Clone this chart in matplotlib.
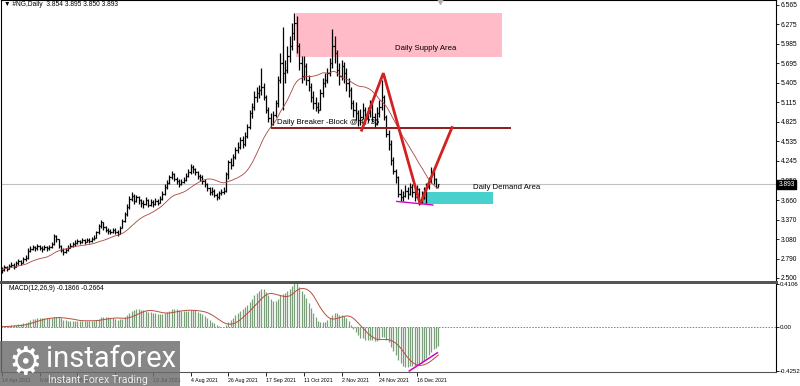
import numpy as np
import pandas as pd
import matplotlib
matplotlib.use("Agg")
import matplotlib.pyplot as plt
from matplotlib.patches import Rectangle
from matplotlib.transforms import blended_transform_factory

plt.rcParams['font.family'] = ['Liberation Sans', 'DejaVu Sans']

# #NG daily bars, 14 Apr 2021 .. end of Dec 2021
close = [2.62, 2.66, 2.64, 2.68, 2.70, 2.67, 2.72, 2.75, 2.73, 2.78,
         2.80, 2.90, 2.93, 2.96, 2.94, 2.97, 2.95, 2.93, 2.96, 2.94,
         2.96, 3.00, 3.12, 3.08, 2.98, 2.92, 2.88, 2.92, 2.95, 2.98,
         3.00, 3.02, 3.05, 3.03, 3.06, 3.04, 3.07, 3.05, 3.08, 3.10,
         3.18, 3.28, 3.33, 3.26, 3.22, 3.20, 3.18, 3.22, 3.19, 3.16,
         3.25, 3.35, 3.45, 3.55, 3.68, 3.72, 3.65, 3.70, 3.66, 3.62,
         3.60, 3.66, 3.58, 3.63, 3.60, 3.65, 3.62, 3.68, 3.75, 3.85,
         3.92, 4.00, 4.05, 3.98, 3.95, 3.90, 3.93, 3.96, 4.02, 4.08,
         4.15, 4.12, 4.08, 4.02, 4.00, 3.95, 3.90, 3.84, 3.78, 3.80,
         3.74, 3.70, 3.76, 3.78, 3.80, 4.05, 4.22, 4.18, 4.30, 4.40,
         4.45, 4.55, 4.50, 4.62, 4.75, 4.95, 5.05, 5.20, 5.25, 5.30,
         5.35, 5.20, 5.00, 4.88, 4.80, 4.92, 5.10, 5.45, 5.70, 5.55,
         5.60, 5.80, 5.95, 6.15, 6.30, 5.95, 5.70, 5.50, 5.65, 5.45,
         5.35, 5.20, 5.10, 5.05, 5.00, 5.25, 5.40, 5.45, 5.55, 5.70,
         5.95, 5.85, 5.60, 5.50, 5.65, 5.55, 5.40, 5.30, 5.10, 5.00,
         4.95, 4.85, 4.90, 5.00, 4.88, 4.95, 5.05, 4.90, 4.80, 4.95,
         5.05, 5.20, 4.90, 4.65, 4.50, 4.25, 4.10, 4.00, 3.75, 3.70,
         3.72, 3.80, 3.75, 3.85, 3.78, 3.70, 3.82, 3.65, 3.72, 3.78,
         3.85, 3.95, 4.05, 3.98, 3.86, 3.893]
high = [2.66, 2.69, 2.68, 2.71, 2.74, 2.72, 2.75, 2.79, 2.77, 2.81,
        2.84, 2.94, 2.97, 2.99, 2.98, 3.00, 2.99, 2.97, 2.99, 2.98,
        2.99, 3.04, 3.16, 3.14, 3.07, 2.99, 2.94, 2.95, 2.99, 3.02,
        3.04, 3.06, 3.08, 3.07, 3.09, 3.08, 3.10, 3.09, 3.11, 3.14,
        3.20, 3.30, 3.36, 3.34, 3.27, 3.24, 3.23, 3.25, 3.24, 3.21,
        3.27, 3.38, 3.48, 3.60, 3.72, 3.78, 3.75, 3.74, 3.72, 3.68,
        3.66, 3.70, 3.68, 3.67, 3.66, 3.69, 3.68, 3.72, 3.80, 3.90,
        3.96, 4.04, 4.10, 4.07, 4.01, 3.97, 3.98, 4.00, 4.06, 4.12,
        4.19, 4.18, 4.14, 4.10, 4.05, 4.03, 3.97, 3.92, 3.86, 3.85,
        3.82, 3.77, 3.80, 3.83, 3.86, 4.08, 4.26, 4.28, 4.34, 4.45,
        4.52, 4.60, 4.62, 4.67, 4.80, 5.00, 5.10, 5.28, 5.35, 5.38,
        5.63, 5.40, 5.22, 5.05, 4.95, 4.98, 5.15, 5.50, 5.85, 6.24,
        5.75, 5.95, 6.10, 6.30, 6.45, 6.40, 6.00, 5.80, 5.80, 5.70,
        5.52, 5.40, 5.28, 5.20, 5.12, 5.32, 5.48, 5.55, 5.62, 5.78,
        6.20, 6.10, 5.90, 5.70, 5.75, 5.72, 5.62, 5.48, 5.35, 5.15,
        5.12, 5.00, 5.02, 5.10, 5.05, 5.05, 5.15, 5.10, 4.95, 5.05,
        5.15, 5.45, 5.22, 4.92, 4.70, 4.55, 4.30, 4.12, 4.02, 3.82,
        3.80, 3.88, 3.86, 3.92, 3.90, 3.82, 3.88, 3.84, 3.80, 3.86,
        3.92, 4.00, 4.15, 4.10, 3.99, 3.895]
low = [2.57, 2.61, 2.60, 2.63, 2.66, 2.64, 2.66, 2.70, 2.69, 2.72,
       2.75, 2.79, 2.88, 2.91, 2.90, 2.92, 2.91, 2.89, 2.91, 2.90,
       2.92, 2.95, 2.99, 3.03, 2.95, 2.89, 2.84, 2.87, 2.90, 2.94,
       2.96, 2.98, 3.00, 3.00, 3.02, 3.00, 3.03, 3.02, 3.04, 3.06,
       3.09, 3.16, 3.25, 3.22, 3.18, 3.16, 3.15, 3.17, 3.15, 3.12,
       3.15, 3.24, 3.33, 3.43, 3.53, 3.64, 3.60, 3.63, 3.60, 3.56,
       3.54, 3.58, 3.55, 3.57, 3.56, 3.59, 3.58, 3.61, 3.66, 3.74,
       3.83, 3.90, 3.97, 3.94, 3.90, 3.86, 3.88, 3.91, 3.95, 4.00,
       4.05, 4.07, 4.03, 3.98, 3.95, 3.90, 3.85, 3.79, 3.73, 3.74,
       3.70, 3.66, 3.68, 3.73, 3.75, 3.78, 3.98, 4.12, 4.16, 4.27,
       4.36, 4.42, 4.44, 4.47, 4.58, 4.72, 4.88, 5.00, 5.12, 5.18,
       5.22, 5.15, 4.95, 4.82, 4.74, 4.78, 4.90, 5.05, 5.40, 5.00,
       5.40, 5.55, 5.72, 5.90, 6.05, 5.85, 5.60, 5.40, 5.45, 5.38,
       5.28, 5.12, 5.02, 4.98, 4.96, 5.00, 5.20, 5.35, 5.40, 5.50,
       5.62, 5.70, 5.50, 5.38, 5.45, 5.40, 5.28, 5.20, 5.02, 4.90,
       4.85, 4.76, 4.78, 4.86, 4.80, 4.82, 4.90, 4.82, 4.74, 4.78,
       4.90, 5.00, 4.85, 4.60, 4.40, 4.18, 4.05, 3.92, 3.70, 3.64,
       3.64, 3.70, 3.68, 3.74, 3.70, 3.64, 3.70, 3.59, 3.62, 3.68,
       3.62, 3.82, 3.92, 3.90, 3.84, 3.850]
last_price = 3.893

price_ticks = [6.565, 6.275, 5.985, 5.695, 5.405, 5.115, 4.825, 4.535,
               4.245, 3.950, 3.660, 3.370, 3.080, 2.790, 2.500]
price_labels = ['6.565', '6.275', '5.985', '5.695', '5.405', '5.115', '4.825', '4.535',
                '4.245', '3.950', '3.660', '3.370', '3.080', '2.790', '2.500']
macd_ticks = [0.4106, 0.0, -0.4252]
macd_labels = ['0.4106', '0.00', '-0.4252']
date_labels = ['14 Apr 2021', '6 May 2021', '28 May 2021', '21 Jun 2021', '13 Jul 2021',
               '4 Aug 2021', '26 Aug 2021', '17 Sep 2021', '11 Oct 2021', '2 Nov 2021',
               '24 Nov 2021', '16 Dec 2021']

# objects drawn on the chart (bar index, price)
zigzag_x = [152.5, 161.7, 177.3, 190.8]
zigzag_y = [4.70, 5.55, 3.60, 4.74]
breaker_x = [114.5, 215.4]
breaker_y = 4.736
supply_x = [124.7, 212.0]
supply_y = [5.792, 6.446]
demand_x = [178.0, 208.2]
demand_y = [3.606, 3.784]
div_px = [167.4, 182.7]
div_py = [3.640, 3.587]
div_mx = [172.7, 184.6]
div_my = [-0.425, -0.25]

C = np.array(close)
O = np.r_[C[0], C[:-1]]
O[-1] = 3.854
H = np.maximum(np.array(high), np.maximum(O, C))
L = np.minimum(np.array(low), np.minimum(O, C))
idx = np.arange(len(C))

s = pd.Series(C)
ma = s.rolling(20, min_periods=1).mean()
macd = s.ewm(span=12, adjust=False).mean() - s.ewm(span=26, adjust=False).mean()
signal = macd.rolling(9, min_periods=1).mean()

W, Hpx = 800, 386
fig = plt.figure(figsize=(8, 3.86), dpi=100)
ax = fig.add_axes([1 / W, 1 - 280 / Hpx, 775 / W, 280 / Hpx])
ax2 = fig.add_axes([1 / W, 1 - 372 / Hpx, 775 / W, 89 / Hpx])

xlim = (-0.42, 328.2)
fs = 4.8

# price panel
ax.add_patch(Rectangle((supply_x[0], supply_y[0]), supply_x[1] - supply_x[0],
                       supply_y[1] - supply_y[0], facecolor='#ffbcc8', edgecolor='none', zorder=0))
ax.add_patch(Rectangle((demand_x[0], demand_y[0]), demand_x[1] - demand_x[0],
                       demand_y[1] - demand_y[0], facecolor='#48d1cc', edgecolor='none', zorder=0))
ax.axhline(last_price, color='#c0c0c0', lw=0.8, zorder=0.5)
ax.vlines(idx, L, H, color='black', lw=0.9, zorder=2)
ax.hlines(O, idx - 0.5, idx, color='black', lw=0.9, zorder=2)
ax.hlines(C, idx, idx + 0.5, color='black', lw=0.9, zorder=2)
ax.plot(idx, ma, color='#a8453c', lw=0.6, zorder=3)
ax.plot(breaker_x, [breaker_y, breaker_y], color='#8b1c1c', lw=1.4, zorder=3)
ax.text(116.5, breaker_y + 0.03, 'Daily Breaker -Block @ 4.735', fontsize=5.6,
        va='bottom', ha='left', zorder=3)
ax.plot(zigzag_x, zigzag_y, color='#d42020', lw=2.0, zorder=4, solid_joinstyle='miter')
ax.plot(div_px, div_py, color='#d000d0', lw=1.0, zorder=4)
ax.text(166.7, 5.86, 'Daily Supply Area', fontsize=5.6, va='bottom', ha='left')
ax.text(199.6, 3.85, 'Daily Demand Area', fontsize=5.6, va='center', ha='left')
ax.set_xlim(*xlim)
ax.set_ylim(2.470, 6.639)
ax.set_xticks([])
ax.yaxis.tick_right()
ax.set_yticks(price_ticks)
ax.set_yticklabels(price_labels)
ax.tick_params(axis='y', length=2.5, width=0.6, pad=1, labelsize=fs)
for sp in ax.spines.values():
    sp.set_linewidth(0.8)
ax.spines['bottom'].set_visible(False)
tr = blended_transform_factory(ax.transAxes, ax.transData)
ax.text(1.003, last_price, '3.893', transform=tr, fontsize=fs, color='white', va='center',
        ha='left', bbox=dict(boxstyle='square,pad=0.15', fc='black', ec='black'), zorder=5)
fig.text(4 / W, 1 - 4 / Hpx, '\u25bc #NG,Daily  3.854 3.895 3.850 3.893', fontsize=fs,
         va='center', ha='left')
fig.lines.append(plt.Line2D([440 / W], [1 - 1 / Hpx], marker='v', ms=4, color='#b0b0b0',
                            transform=fig.transFigure))

# separator between panels
fig.patches.append(Rectangle((0, 1 - 283.5 / Hpx), 778 / W, 3 / Hpx, transform=fig.transFigure,
                             facecolor='#555555', edgecolor='none'))

# MACD panel
ax2.vlines(idx, 0, macd, color='#7a9f7a', lw=0.9)
ax2.plot(idx, signal, color='#b4503c', lw=0.7)
ax2.axhline(0, color='#808080', lw=0.7, ls=(0, (1.5, 1.5)))
ax2.plot(div_mx, div_my, color='#d000d0', lw=1.1)
ax2.text(3, 0.40, 'MACD(12,26,9) -0.1866 -0.2664', fontsize=fs, va='top', ha='left')
ax2.set_xlim(*xlim)
ax2.set_ylim(-0.4349, 0.4203)
ax2.yaxis.tick_right()
ax2.set_yticks(macd_ticks)
ax2.set_yticklabels(macd_labels)
ax2.set_xticks(np.arange(len(date_labels)) * 16)
ax2.set_xticklabels(date_labels, ha='left')
ax2.tick_params(axis='y', length=2, width=0.6, pad=0.8, labelsize=4.4)
ax2.tick_params(axis='x', length=3, width=0.6, pad=1.5, labelsize=3.8)
ax2.spines['top'].set_visible(False)
for sp in ax2.spines.values():
    sp.set_linewidth(0.8)
ax2.spines['bottom'].set_color('#555555')

# instaforex watermark
fig.patches.append(Rectangle((0, 0), 180 / W, 45 / Hpx, transform=fig.transFigure,
                             facecolor='#6c6c6c', alpha=0.82, edgecolor='none', zorder=10))
fig.text(25 / W, 1 - 364 / Hpx, '\u2699', fontsize=27, color='white', ha='center',
         va='center', zorder=11)
fig.text(46 / W, 1 - 367 / Hpx, 'instaforex', fontsize=21, color='white', family='Roboto',
         ha='left', va='baseline', zorder=11)
fig.text(48 / W, 1 - 383 / Hpx, 'Instant Forex Trading', fontsize=7.6, color='#ececec',
         family='Roboto', ha='left', va='baseline', zorder=11)

fig.savefig('out.png', dpi=100)
